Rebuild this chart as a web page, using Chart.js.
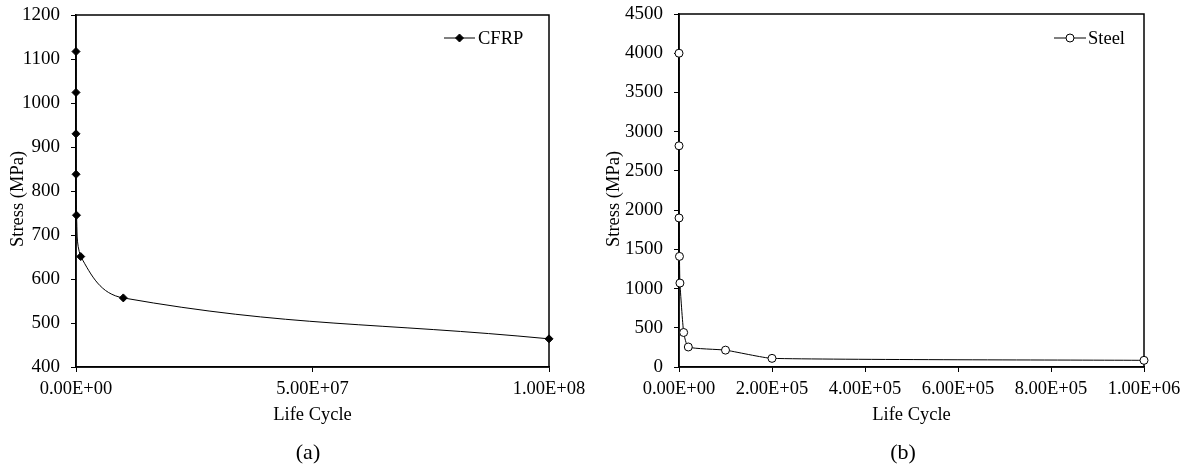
<!DOCTYPE html>
<html><head><meta charset="utf-8">
<script src="https://cdn.jsdelivr.net/npm/chart.js@4/dist/chart.umd.min.js"></script>
<style>
html,body{margin:0;padding:0;background:#fff;}
#wrap{position:relative;width:1190px;height:466px;overflow:hidden;background:#fff;}
.cw{position:absolute;top:0;width:595px;height:466px;}
.lab{position:absolute;font-family:"Liberation Serif","Times New Roman",serif;font-size:22px;color:#000;transform:translateX(-50%);top:439px;line-height:26px;}
</style></head><body>
<div id="wrap">
<div class="cw" style="left:0"><canvas id="ca" width="595" height="466"></canvas></div>
<div class="cw" style="left:595px"><canvas id="cb" width="595" height="466"></canvas></div>
<div class="lab" style="left:308px">(a)</div>
<div class="lab" style="left:903px">(b)</div>
</div>
<script>
// ---- data ----
const cfrpCycles = [1e1, 1e2, 1e3, 1e4, 1e5, 1e6, 1e7, 1e8];
const cfrpStress = [1117, 1024, 930, 838, 745, 651, 557, 464];
const steelCycles = [1, 10, 100, 1000, 2000, 1e4, 2e4, 1e5, 2e5, 1e6];
const steelStress = [4000, 2820, 1900, 1410, 1070, 440, 255, 215, 110, 85];
const cfrpXTicks = [0, 5e7, 1e8];
const cfrpYTicks = [400, 500, 600, 700, 800, 900, 1000, 1100, 1200];
const steelXTicks = [0, 2e5, 4e5, 6e5, 8e5, 1e6];
const steelYTicks = [0, 500, 1000, 1500, 2000, 2500, 3000, 3500, 4000, 4500];
const xTitle = 'Life Cycle';
const yTitle = 'Stress (MPa)';

const FONT = '"Liberation Serif","Times New Roman",serif';

function sci(v) {
  if (v === 0) return '0.00E+00';
  const e = Math.floor(Math.log10(Math.abs(v)) + 1e-9);
  const m = v / Math.pow(10, e);
  return m.toFixed(2) + 'E' + (e < 0 ? '-' : '+') + String(Math.abs(e)).padStart(2, '0');
}

function framePlugin(leg) {
  return {
    id: 'frameLegend',
    beforeDatasetsDraw(chart) {
      const {ctx, chartArea: a} = chart;
      ctx.save();
      ctx.strokeStyle = '#000';
      ctx.lineWidth = 1.5;
      ctx.strokeRect(a.left, a.top, a.right - a.left, a.bottom - a.top);
      // y-axis title
      ctx.fillStyle = '#000';
      ctx.font = '18.5px ' + FONT;
      ctx.textAlign = 'center';
      ctx.textBaseline = 'middle';
      ctx.translate(leg.yTitleX, leg.yTitleY);
      ctx.rotate(-Math.PI / 2);
      ctx.fillText(yTitle, 0, 0);
      ctx.restore();
    },
    afterDatasetsDraw(chart) {
      const {ctx} = chart;
      const ds = chart.data.datasets[0];
      const cx = (leg.x1 + leg.x2) / 2, r = ds.pointRadius;
      ctx.save();
      ctx.strokeStyle = '#000';
      ctx.lineWidth = 1;
      ctx.beginPath();
      ctx.moveTo(leg.x1, leg.y);
      ctx.lineTo(leg.x2, leg.y);
      ctx.stroke();
      ctx.fillStyle = ds.pointBackgroundColor;
      ctx.beginPath();
      if (ds.pointStyle === 'circle') {
        ctx.arc(cx, leg.y, r, 0, Math.PI * 2);
      } else {
        ctx.moveTo(cx, leg.y - r); ctx.lineTo(cx + r, leg.y); ctx.lineTo(cx, leg.y + r); ctx.lineTo(cx - r, leg.y); ctx.closePath();
      }
      ctx.fill(); ctx.stroke();
      ctx.fillStyle = '#000';
      ctx.font = '18.5px ' + FONT;
      ctx.textBaseline = 'middle';
      ctx.textAlign = 'left';
      ctx.fillText(ds.label, leg.tx, leg.y + 1);
      ctx.restore();
    }
  };
}

function makeChart(id, cfg) {
  return new Chart(document.getElementById(id), {
    type: 'line',
    data: {
      datasets: [{
        label: cfg.label,
        data: cfg.xs.map((x, i) => ({x: x, y: cfg.ys[i]})),
        borderColor: '#000',
        borderWidth: 1,
        pointStyle: cfg.pointStyle,
        pointRadius: cfg.pointRadius,
        pointBackgroundColor: cfg.pointFill,
        pointBorderColor: '#000',
        pointBorderWidth: 1,
        tension: cfg.tension,
        clip: false,
        fill: false
      }]
    },
    options: {
      responsive: false,
      animation: false,
      events: [],
      layout: {padding: {left: 0, top: cfg.top, right: cfg.right, bottom: 40}},
      plugins: {legend: {display: false}, tooltip: {enabled: false}},
      scales: {
        x: {
          type: 'linear',
          min: cfg.xTicks[0], max: cfg.xTicks[cfg.xTicks.length - 1],
          afterBuildTicks: s => { s.ticks = cfg.xTicks.map(v => ({value: v})); },
          afterFit: s => { s.height = 59; s.paddingLeft = 0; s.paddingRight = 0; },
          grid: {display: true, drawOnChartArea: false, drawTicks: true, tickLength: 5, color: '#000', lineWidth: 1},
          border: {display: true, color: '#000', width: 1.5},
          ticks: {color: '#000', font: {family: FONT, size: 18.5}, padding: 6, maxRotation: 0, autoSkip: false, callback: v => sci(v)},
          title: {display: true, text: xTitle, color: '#000', font: {family: FONT, size: 18.5}, padding: 0}
        },
        y: {
          type: 'linear',
          min: cfg.yTicks[0], max: cfg.yTicks[cfg.yTicks.length - 1],
          afterBuildTicks: s => { s.ticks = cfg.yTicks.map(v => ({value: v})); },
          afterFit: s => { s.width = cfg.yw; s.paddingTop = 0; s.paddingBottom = 0; },
          grid: {display: true, drawOnChartArea: false, drawTicks: true, tickLength: 5, color: '#000', lineWidth: 1},
          border: {display: true, color: '#000', width: 1.5},
          ticks: {color: '#000', font: {family: FONT, size: 19}, padding: 11, autoSkip: false, callback: v => String(v)},
          title: {display: false}
        }
      }
    },
    plugins: [framePlugin(cfg.leg)]
  });
}

makeChart('ca', {
  label: 'CFRP', xs: cfrpCycles, ys: cfrpStress, pointStyle: 'rectRot', pointRadius: 4,
  pointFill: '#000', tension: 0.4, xTicks: cfrpXTicks, yTicks: cfrpYTicks,
  top: 15, right: 46, yw: 76,
  leg: {x1: 444, x2: 475, y: 38, tx: 478, yTitleX: 18, yTitleY: 199}
});
makeChart('cb', {
  label: 'Steel', xs: steelCycles, ys: steelStress, pointStyle: 'circle', pointRadius: 4,
  pointFill: '#fff', tension: 0.15, xTicks: steelXTicks, yTicks: steelYTicks,
  top: 14, right: 46, yw: 84,
  leg: {x1: 459, x2: 491, y: 38, tx: 493, yTitleX: 19, yTitleY: 199}
});
</script>
</body></html>
